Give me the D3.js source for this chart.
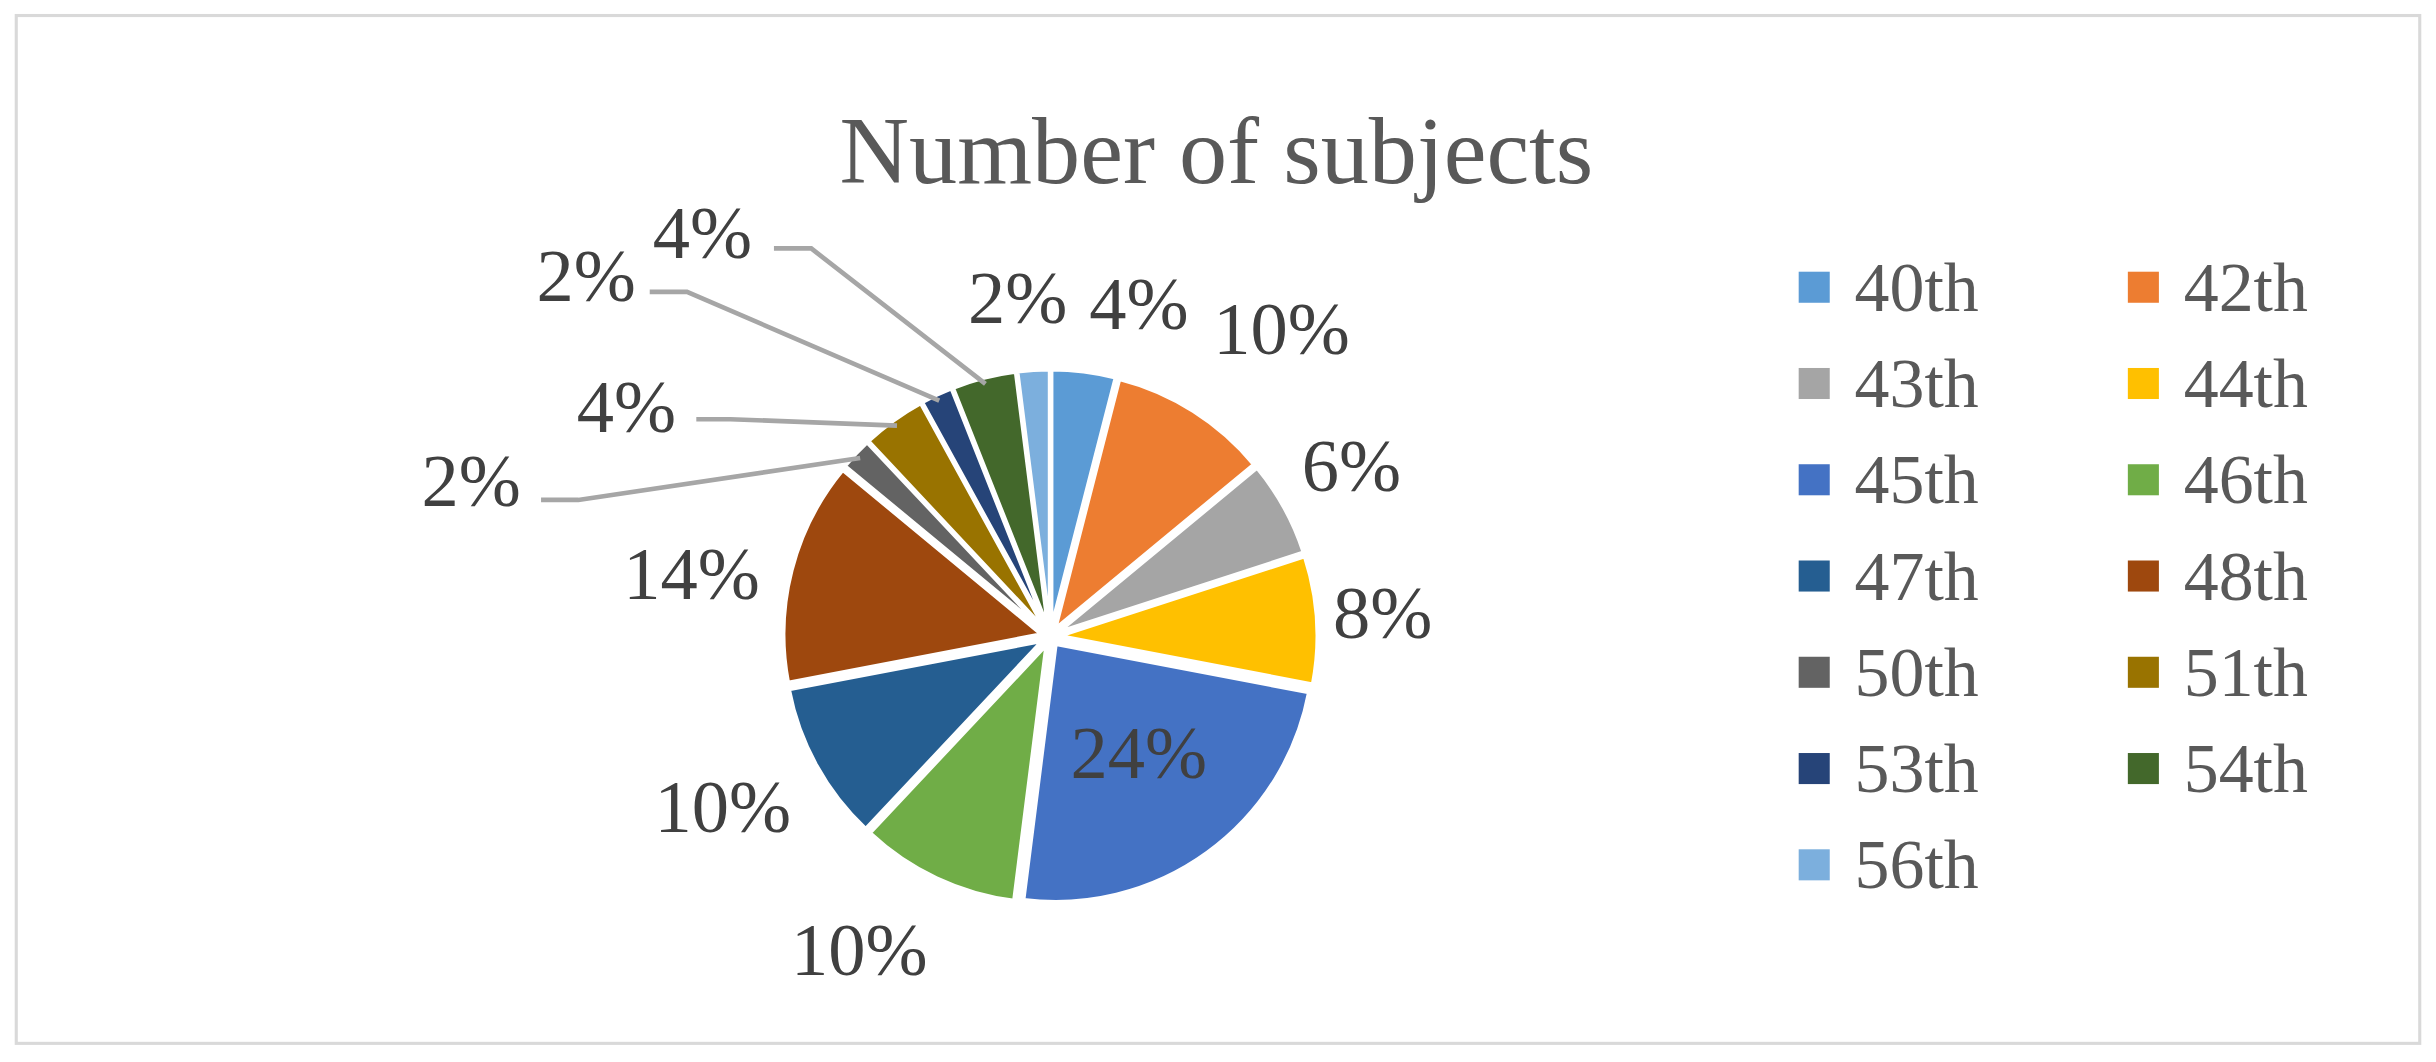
<!DOCTYPE html>
<html>
<head>
<meta charset="utf-8">
<script src="https://cdn.jsdelivr.net/npm/d3@7"></script>
<style>
  body { margin: 0; background: #fff; }
  text { font-family: 'Liberation Serif', 'DejaVu Serif', serif; }
</style>
</head>
<body>
<svg id="chart" width="2436" height="1062" viewBox="0 0 1568 684"></svg>
<script>
const categories = ['40th', '42th', '43th', '44th', '45th', '46th', '47th', '48th', '50th', '51th', '53th', '54th', '56th'];
const shares = [4, 10, 6, 8, 24, 10, 10, 14, 2, 4, 2, 4, 2];
const colors = ['#5b9bd5', '#ed7d31', '#a5a5a5', '#ffc000', '#4472c4', '#70ad47',
  '#255e91', '#9e480e', '#636363', '#997300', '#264478', '#43682b', '#7cafdd'];

// label anchor points (layout only) and leader line elbows
const labelPos = {
  '40th': [733, 196], '42th': [825, 212], '43th': [870, 300], '44th': [890, 395],
  '45th': [733, 485], '46th': [553, 612], '47th': [465, 520], '48th': [445, 370],
  '50th': [303, 310], '51th': [403, 262], '53th': [377, 178], '54th': [452, 150],
  '56th': [655, 192]
};
const leaders = {
  '50th': [[348, 322], [372, 322]],
  '51th': [[448, 270], [470, 270]],
  '53th': [[418, 188], [442, 188]],
  '54th': [[498, 160], [522, 160]]
};

const svg = d3.select('#chart');

svg.append('rect')
  .attr('x', 10).attr('y', 10).attr('width', 1548).attr('height', 662)
  .attr('fill', '#fff').attr('stroke', '#d9d9d9').attr('stroke-width', 2);

svg.append('text')
  .attr('x', 783).attr('y', 118)
  .attr('text-anchor', 'middle')
  .attr('font-size', 62)
  .attr('fill', '#595959')
  .text('Number of subjects');

const cx = 676, cy = 410, r = 166;
const data = categories.map((c, i) => ({ cat: c, value: shares[i], color: colors[i] }));
const pie = d3.pie().value(d => d.value).sort(null);
const arc = d3.arc().innerRadius(0).outerRadius(r);
const arcs = pie(data);

const g = svg.append('g').attr('transform', `translate(${cx},${cy})`);

g.selectAll('path')
  .data(arcs)
  .join('path')
  .attr('transform', d => {
    const a = (d.startAngle + d.endAngle) / 2;
    return `translate(${Math.sin(a) * 6},${-Math.cos(a) * 6})`;
  })
  .attr('d', arc)
  .attr('fill', d => d.data.color)
  .attr('stroke', '#fff')
  .attr('stroke-width', 2.5);

// leader lines
arcs.forEach(d => {
  const pts = leaders[d.data.cat];
  if (!pts) return;
  const a = (d.startAngle + d.endAngle) / 2;
  const end = [cx + Math.sin(a) * (r + 2), cy - Math.cos(a) * (r + 2)];
  svg.append('path')
    .attr('d', d3.line()([pts[0], pts[1], end]))
    .attr('fill', 'none')
    .attr('stroke', '#a6a6a6')
    .attr('stroke-width', 3);
});

svg.selectAll('text.lbl')
  .data(arcs)
  .join('text')
  .attr('class', 'lbl')
  .attr('x', d => labelPos[d.data.cat][0])
  .attr('y', d => labelPos[d.data.cat][1])
  .attr('text-anchor', 'middle')
  .attr('dominant-baseline', 'central')
  .attr('font-size', 48)
  .attr('fill', '#404040')
  .text(d => d.data.value + '%');

// legend
const legend = svg.append('g');
data.forEach((d, i) => {
  const col = i % 2, row = Math.floor(i / 2);
  const x = 1158 + col * 212, y = 185 + row * 62;
  legend.append('rect')
    .attr('x', x).attr('y', y - 10).attr('width', 20).attr('height', 20)
    .attr('fill', d.color);
  legend.append('text')
    .attr('x', x + 36).attr('y', y)
    .attr('dominant-baseline', 'central')
    .attr('font-size', 45)
    .attr('fill', '#595959')
    .text(d.cat);
});
</script>
</body>
</html>
